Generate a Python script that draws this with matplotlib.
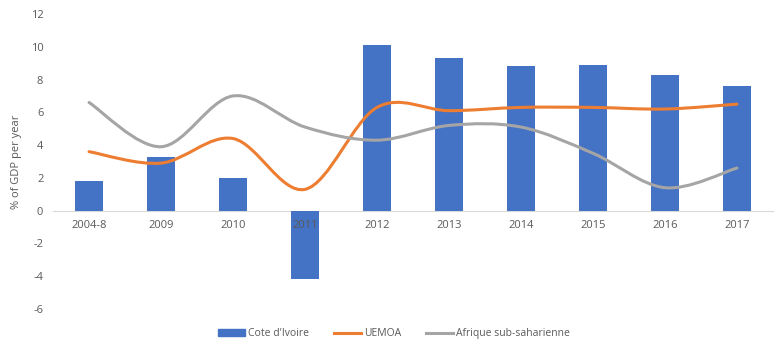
import numpy as np
import matplotlib.pyplot as plt
from matplotlib.path import Path
from matplotlib.patches import PathPatch
from matplotlib.lines import Line2D

plt.rcParams['font.family'] = ['Open Sans', 'DejaVu Sans']
plt.rcParams['axes.unicode_minus'] = False

# données
annees = ['2004-8', '2009', '2010', '2011', '2012', '2013', '2014', '2015', '2016', '2017']
cote_ivoire = [1.8, 3.3, 2.0, -4.2, 10.1, 9.3, 8.8, 8.9, 8.3, 7.6]
uemoa = [3.6, 2.9, 4.4, 1.3, 6.3, 6.1, 6.3, 6.3, 6.2, 6.5]
afrique_ss = [6.6, 3.9, 7.0, 5.1, 4.3, 5.2, 5.1, 3.5, 1.4, 2.6]


def courbe_lisse(x, y):
    # chemin de Bezier (style Catmull-Rom) passant par les points, comme les lignes lissées d'Excel
    p = np.column_stack([x, y]).astype(float)
    n = len(p)
    verts = [p[0]]
    codes = [Path.MOVETO]
    for i in range(n - 1):
        p0 = p[i - 1] if i > 0 else p[i]
        p3 = p[i + 2] if i + 2 < n else p[i + 1]
        c1 = p[i] + (p[i + 1] - p0) / 6
        c2 = p[i + 1] - (p3 - p[i]) / 6
        verts += [c1, c2, p[i + 1]]
        codes += [Path.CURVE4] * 3
    return Path(verts, codes)


fig = plt.figure(figsize=(7.8, 3.55), dpi=100)
ax = fig.add_axes([0.068, 0.1296, 0.923, 0.831])

x = np.arange(len(annees))
ax.bar(x, cote_ivoire, width=0.4, color='#4472C4', zorder=2)

for serie, couleur in [(uemoa, '#ED7D31'), (afrique_ss, '#A5A5A5')]:
    ax.add_patch(PathPatch(courbe_lisse(x, serie), facecolor='none',
                           edgecolor=couleur, lw=2.2, capstyle='round', zorder=3))

ax.set_xlim(-0.5, len(annees) - 0.5)
ax.set_ylim(-6, 12)
ax.set_yticks(range(-6, 13, 2))
ax.set_xticks(x)
ax.set_xticklabels(annees)
ax.set_axisbelow(False)

for s in ['top', 'right', 'left']:
    ax.spines[s].set_visible(False)
ax.spines['bottom'].set_position(('data', 0))
ax.spines['bottom'].set_color('#D9D9D9')
ax.spines['bottom'].set_zorder(1)
ax.tick_params(length=0, labelsize=8, colors='#595959')
ax.tick_params(axis='x', pad=7)
ax.tick_params(axis='y', pad=7)

ax.set_ylabel('% of GDP per year', fontsize=8, color='#595959', labelpad=6)

handles = [
    plt.Rectangle((0, 0), 1, 1, color='#4472C4'),
    Line2D([], [], color='#ED7D31', lw=2.2),
    Line2D([], [], color='#A5A5A5', lw=2.2),
]
fig.legend(handles, ["Cote d'Ivoire", 'UEMOA', 'Afrique sub-saharienne'],
           loc='center', bbox_to_anchor=(0.505, 0.06), ncol=3, frameon=False,
           fontsize=7.5, labelcolor='#595959', handlelength=2.6, handleheight=0.6,
           columnspacing=2.4, handletextpad=0.3)

plt.savefig('out.png', dpi=100)
